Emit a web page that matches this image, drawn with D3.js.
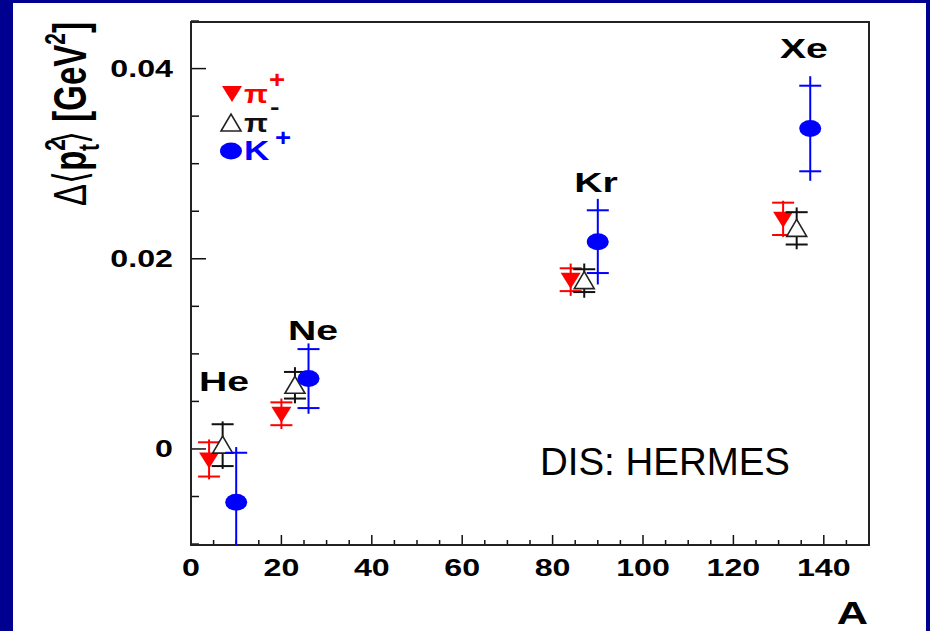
<!DOCTYPE html>
<html><head><meta charset="utf-8">
<script src="https://cdn.jsdelivr.net/npm/d3@7"></script>
<style>
html,body{margin:0;padding:0;background:#000090;}
svg{display:block;}
</style></head>
<body>
<svg id="chart" width="930" height="631"></svg>
<script>
// ---- data ----
const nuclei = ["He", "Ne", "Kr", "Xe"];
const piPlusA = [4, 20, 84, 131];
const piPlusVal = [-0.0011, 0.0037, 0.0178, 0.0242];
const piPlusErr = [0.0018, 0.0012, 0.0012, 0.0017];
const piPlusErrTot = [0.0021, 0.0016, 0.0017, 0.0019];
const piMinusA = [7, 23, 87, 134];
const piMinusVal = [0.0004, 0.0067, 0.0177, 0.0232];
const piMinusErr = [0.0022, 0.0014, 0.0012, 0.0017];
const piMinusErrTot = [0.0025, 0.0019, 0.0018, 0.0022];
const kPlusA = [10, 26, 90, 137];
const kPlusVal = [-0.0056, 0.0074, 0.0218, 0.0337];
const kPlusErr = [0.0052, 0.0031, 0.0033, 0.0045];
const kPlusErrTot = [0.0058, 0.0037, 0.0045, 0.0055];
const xTicks = [0, 20, 40, 60, 80, 100, 120, 140];
const yTicks = [0, 0.02, 0.04];
const yTickLabels = ["0", "0.02", "0.04"];
// nucleus label anchor points (A, value)
const labelA = [7.3, 27, 89.6, 135.6];
const labelY = [0.0061, 0.0115, 0.027, 0.0411];

// ---- layout ----
const svg = d3.select("#chart");
const SX = 1.4; // horizontal stretch of original picture
const FONT = "'Liberation Sans', Arial, Helvetica, sans-serif";
svg.append("rect").attr("x", 13).attr("y", 3).attr("width", 913).attr("height", 628).attr("fill", "#fff");

const x = d3.scaleLinear().domain([0, 150]).range([191, 869]);
const y = d3.scaleLinear().domain([-0.0101, 0.0449]).range([545, 22]);

function stext(px, py, str, opts) {
  opts = opts || {};
  const t = svg.append("text")
    .attr("transform", `translate(${px},${py}) scale(${opts.sx || SX},1)`)
    .attr("font-family", opts.family || FONT)
    .attr("font-weight", opts.weight || "bold")
    .attr("font-size", opts.size || 22)
    .attr("fill", opts.fill || "#000")
    .attr("text-anchor", opts.anchor || "start")
    .text(str);
  return t;
}

// axes ticks (inside)
const xMinor = d3.range(0, 151, 5);
const yMinor = d3.range(-0.01, 0.0451, 0.005);
const g = svg.append("g");
xMinor.forEach(v => {
  const major = Math.abs(v % 20) < 1e-9;
  g.append("line").attr("x1", x(v)).attr("x2", x(v)).attr("y1", 545).attr("y2", 545 - (major ? 10 : 5))
    .attr("stroke", "#111").attr("stroke-width", 1.5);
});
yMinor.forEach(v => {
  const major = Math.abs(Math.round(v * 1000) % 20) === 0;
  g.append("line").attr("x1", 191).attr("x2", 191 + (major ? 15 : 8)).attr("y1", y(v)).attr("y2", y(v))
    .attr("stroke", "#111").attr("stroke-width", 1.5);
});
svg.append("rect").attr("x", x(0)).attr("y", y(0.0449)).attr("width", x(150) - x(0)).attr("height", y(-0.0101) - y(0.0449))
  .attr("fill", "none").attr("stroke", "#222").attr("stroke-width", 2);

xTicks.forEach(v => stext(x(v), 576, String(v), {anchor: "middle", size: 23}));
yTicks.forEach((v, i) => stext(173, y(v) + 8, yTickLabels[i], {anchor: "end", size: 23}));
stext(868, 624, "A", {anchor: "end", size: 31});

// y-axis title
const yt = svg.append("text")
  .attr("transform", `translate(86,114) scale(${SX},1) rotate(-90)`)
  .attr("font-family", FONT).attr("font-size", 33).attr("font-weight", "bold")
  .attr("text-anchor", "middle").attr("fill", "#000");
yt.append("tspan").attr("font-weight", "normal").text("Δ⟨");
yt.append("tspan").text("p");
yt.append("tspan").attr("font-size", 21).attr("dy", -15).text("2");
yt.append("tspan").attr("font-size", 21).attr("dx", -12).attr("dy", 24).text("t");
yt.append("tspan").attr("font-weight", "normal").attr("dy", -9).text("⟩");
yt.append("tspan").text(" [GeV");
yt.append("tspan").attr("font-size", 21).attr("dy", -15).text("2");
yt.append("tspan").attr("dy", 15).text("]");

// nucleus labels
nuclei.forEach((n, i) => stext(x(labelA[i]), y(labelY[i]), n, {anchor: "middle", size: 28}));

// DIS: HERMES
svg.append("text").attr("x", 540).attr("y", 475).attr("font-family", FONT).attr("font-size", 39)
  .attr("textLength", 250).attr("lengthAdjust", "spacingAndGlyphs").attr("fill", "#000").text("DIS: HERMES");

// error bars + markers
function series(As, vals, errs, tots, color) {
  const gg = svg.append("g");
  As.forEach((a, i) => {
    const cx = x(a);
    gg.append("line").attr("x1", cx).attr("x2", cx)
      .attr("y1", Math.max(y(vals[i] + tots[i]), 22)).attr("y2", Math.min(y(vals[i] - tots[i]), 545))
      .attr("stroke", color).attr("stroke-width", 2);
    [vals[i] + errs[i], vals[i] - errs[i]].forEach(e => {
      const yy = y(e);
      if (yy >= 22 && yy <= 545)
        gg.append("line").attr("x1", cx - 11).attr("x2", cx + 11).attr("y1", yy).attr("y2", yy)
          .attr("stroke", color).attr("stroke-width", 2);
    });
  });
  return gg;
}
function downTri(sel, cx, cy, color) {
  sel.append("path").attr("d", `M${cx - 10},${cy - 7} L${cx + 10},${cy - 7} L${cx},${cy + 9} Z`).attr("fill", color);
}
function upTri(sel, cx, cy) {
  sel.append("path").attr("d", `M${cx - 10},${cy + 8} L${cx + 10},${cy + 8} L${cx},${cy - 9} Z`)
    .attr("fill", "#fff").attr("stroke", "#222").attr("stroke-width", 1.6);
}
function dot(sel, cx, cy, color) {
  sel.append("ellipse").attr("cx", cx).attr("cy", cy).attr("rx", 11).attr("ry", 8.5).attr("fill", color);
}

const gPP = series(piPlusA, piPlusVal, piPlusErr, piPlusErrTot, "#ff0000");
piPlusA.forEach((a, i) => downTri(gPP, x(a), y(piPlusVal[i]), "#ff0000"));
const gPM = series(piMinusA, piMinusVal, piMinusErr, piMinusErrTot, "#111");
piMinusA.forEach((a, i) => upTri(gPM, x(a), y(piMinusVal[i])));
const gK = series(kPlusA, kPlusVal, kPlusErr, kPlusErrTot, "#0000ff");
kPlusA.forEach((a, i) => dot(gK, x(a), y(kPlusVal[i]), "#0000ff"));

// legend
const lg = svg.append("g");
downTri(lg, 232, 93, "#ff0000");
stext(244, 103, "π", {size: 26, fill: "#ff0000", sx: 1.2});
stext(269, 88, "+", {size: 23, fill: "#ff0000", sx: 1.2});
upTri(lg, 231, 123);
stext(244, 132, "π", {size: 26, fill: "#111", sx: 1.2});
stext(270, 114, "-", {size: 22, fill: "#111", sx: 1.3});
dot(lg, 231, 151, "#0000ff");
stext(244, 160, "K", {size: 27, fill: "#0000ff", sx: 1.3});
stext(275, 146, "+", {size: 23, fill: "#0000ff", sx: 1.2});
</script>
</body></html>
